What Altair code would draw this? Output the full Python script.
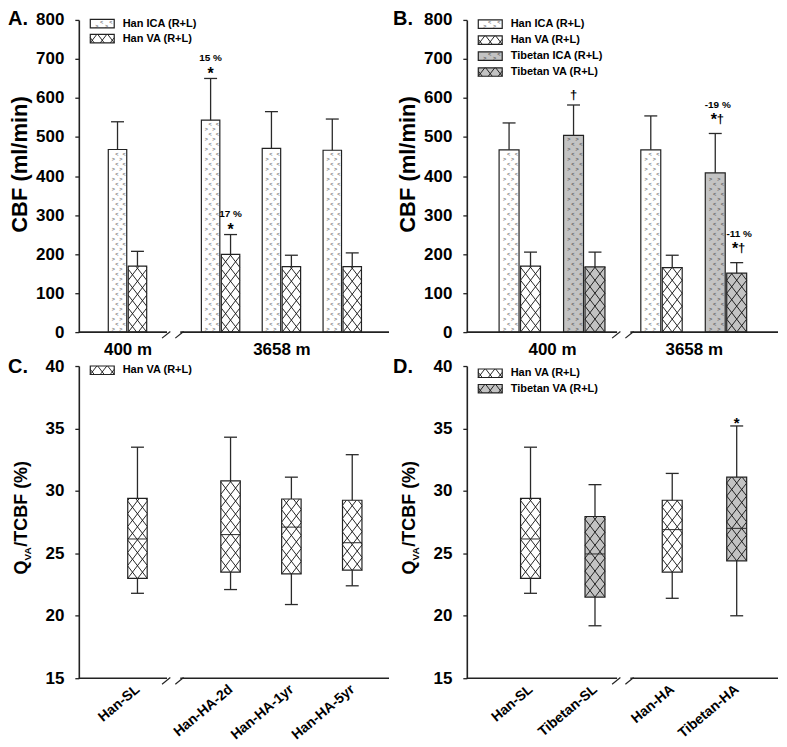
import json
import numpy as np
import pandas as pd
import altair as alt

FONT = "Liberation Sans"
EDGE = "#222222"
FILL = {"Han": "#ffffff", "Tibetan": "#c3c3c3"}
CHEV = {"Han": "#7a7a7a", "Tibetan": "#5e5e5e"}

# ------------------------------------------------------------------ data
# Panel A - Han, total ICA / VA flow (mean, top of SD bar)
a_site = ["400 m", "3658 m", "3658 m", "3658 m"]
a_pop = ["Han", "Han", "Han", "Han"]
a_ica = [468, 543, 471, 466]
a_ica_top = [539, 650, 565, 546]
a_va = [169, 199, 168, 168]
a_va_top = [207, 250, 197, 203]
a_ica_pct = ["", "15 %", "", ""]
a_ica_sig = ["", "*", "", ""]
a_va_pct = ["", "17 %", "", ""]
a_va_sig = ["", "*", "", ""]
a_legend = ["Han ICA (R+L)", "Han VA (R+L)"]

# Panel B - Han vs Tibetan
b_site = ["400 m", "400 m", "3658 m", "3658 m"]
b_pop = ["Han", "Tibetan", "Han", "Tibetan"]
b_ica = [467, 504, 467, 408]
b_ica_top = [536, 582, 554, 509]
b_va = [169, 167, 165, 151]
b_va_top = [205, 205, 197, 178]
b_ica_pct = ["", "", "", "-19 %"]
b_ica_sig = ["", "†", "", "*†"]
b_va_pct = ["", "", "", "-11 %"]
b_va_sig = ["", "", "", "*†"]
b_legend = ["Han ICA (R+L)", "Han VA (R+L)", "Tibetan ICA (R+L)", "Tibetan VA (R+L)"]

# Panel C - QVA/TCBF (%) box plots, Han
c_groups = ["Han-SL", "Han-HA-2d", "Han-HA-1yr", "Han-HA-5yr"]
c_pop = ["Han", "Han", "Han", "Han"]
c_min = [21.8, 22.1, 20.9, 22.4]
c_q1 = [23.0, 23.5, 23.35, 23.65]
c_median = [26.15, 26.5, 27.1, 25.85]
c_q3 = [29.4, 30.8, 29.35, 29.25]
c_max = [33.5, 34.3, 31.1, 32.9]
c_sig = ["", "", "", ""]
c_legend = ["Han VA (R+L)"]

# Panel D - QVA/TCBF (%) box plots, Han vs Tibetan
d_groups = ["Han-SL", "Tibetan-SL", "Han-HA", "Tibetan-HA"]
d_pop = ["Han", "Tibetan", "Han", "Tibetan"]
d_min = [21.8, 19.2, 21.4, 20.0]
d_q1 = [23.0, 21.5, 23.5, 24.4]
d_median = [26.15, 24.95, 26.9, 27.0]
d_q3 = [29.4, 27.95, 29.25, 31.1]
d_max = [33.5, 30.5, 31.4, 35.2]
d_sig = ["", "", "", "*"]
d_legend = ["Han VA (R+L)", "Tibetan VA (R+L)"]

# ------------------------------------------------------------------ layout
PLOT_H = 313
W_LEFT, W_RIGHT = 311, 312
PX_LEFT, PX_RIGHT = 61.0, 64.0


class Geo:
    def __init__(self, width, height, px_per_slot, ydom):
        self.w, self.h = width, height
        self.sx = float(px_per_slot)
        self.xdom = [0.0, round(width / px_per_slot, 4)]
        self.ydom = list(ydom)
        self.sy = height / float(ydom[1] - ydom[0])

    def X(self, px):
        return self.xdom[0] + px / self.sx

    def Y(self, py):
        return self.ydom[1] - py / self.sy

    def ux(self, px):
        return px / self.sx

    def uy(self, px):
        return px / self.sy


def slot_positions(n, start, step, brk_after, extra):
    out, x = [], start
    for i in range(n):
        out.append(round(x, 4))
        x += step + (extra if i == brk_after else 0.0)
    return out


def hatch_segments(g, x0, x1, y0, y1, dv=13.0, a=1.3):
    W = (x1 - x0) * g.sx
    Hh = (y1 - y0) * g.sy
    segs = []
    n0 = int(np.floor(-a * W / dv)) - 1
    n1 = int(np.ceil(Hh / dv)) + 1
    for n in range(n0, n1 + 1):
        k = n * dv
        lo, hi = max(0.0, -k / a), min(W, (Hh - k) / a)
        if hi - lo > 0.2:
            segs.append((lo, a * lo + k, hi, a * hi + k))
    for n in range(n0, n1 + 1):
        k = a * W + n * dv
        lo, hi = max(0.0, (k - Hh) / a), min(W, k / a)
        if hi - lo > 0.2:
            segs.append((lo, -a * lo + k, hi, -a * hi + k))
    return [dict(x=x0 + p / g.sx, y=y0 + q / g.sy, x2=x0 + p2 / g.sx, y2=y0 + q2 / g.sy)
            for p, q, p2, q2 in segs]


def chevron_marks(g, x0, x1, y0, y1, color, start=3.5, step=5.0):
    W = (x1 - x0) * g.sx
    Hh = (y1 - y0) * g.sy
    out, py, i = [], start, 0
    while py <= Hh - 2.0:
        if i % 2 == 0:
            fr, t = (0.27, 0.68), ">"
        else:
            fr, t = (0.47, 0.86), "<"
        for f in fr:
            out.append(dict(x=x0 + f * W / g.sx, y=y0 + py / g.sy, t=t, c=color))
        py += step
        i += 1
    return out


class Canvas:
    def __init__(self, g):
        self.g = g
        self.rects, self.hatch, self.chev = [], [], []
        self.rules, self.ann, self.leg = [], [], []

    def box(self, x0, x1, y0, y1, fill, pattern, chev_color, start=3.5, step=5.0):
        self.rects.append(dict(x0=x0, x1=x1, y0=y0, y1=y1, fill=fill))
        if pattern == "hatch":
            self.hatch += hatch_segments(self.g, x0, x1, y0, y1)
        else:
            self.chev += chevron_marks(self.g, x0, x1, y0, y1, chev_color, start, step)

    def rule(self, x, y, x2, y2, w=1.3, c="#2a2a2a"):
        self.rules.append(dict(x=x, y=y, x2=x2, y2=y2, w=w, c=c))

    def annotate(self, x, anchor, pct, sig, o):
        g = self.g

        def put(dx, up, t, size, corr):
            self.ann.append(dict(x=x + g.ux(dx), y=anchor + g.uy(up - corr * size), t=t, size=size))

        if pct:
            put(o.get("pct_dx", 0), o["pct"], pct, 10, 0.06)
        if sig == "*":
            put(0, o["star"], "*", o["star_size"], 0.27)
        elif sig == "†":
            put(0, o["dag"], "†", 13, 0.0)
        elif sig == "*†":
            put(-1.5, o["star2"], "*", o["star_size"], 0.27)
            put(5.0, o["dag2"], "†", 13, 0.0)

    def legend(self, names, tops):
        g = self.g
        for name, top in zip(names, tops):
            pop = "Tibetan" if name.startswith("Tibetan") else "Han"
            pattern = "chev" if "ICA" in name else "hatch"
            self.box(g.X(11.5), g.X(35.5), g.Y(top + 8.5), g.Y(top), FILL[pop], pattern,
                     CHEV[pop], start=2.2, step=4.2)
            self.leg.append(dict(x=g.X(44), y=g.Y(top + 4.25), t=name))

    def broken_axis(self, brk):
        g = self.g
        y0 = g.ydom[0]
        self.rule(g.xdom[0], y0, brk - g.ux(5.8), y0, w=1.6, c=EDGE)
        self.rule(brk + g.ux(7.5), y0, g.xdom[1], y0, w=1.6, c=EDGE)
        for off in (-10.8, 2.5):
            self.rule(brk + g.ux(off), y0 - g.uy(6.0), brk + g.ux(off + 8.3), y0 + g.uy(0.7),
                      w=1.2, c=EDGE)

    def chart(self, xaxis, yaxis, extras):
        g = self.g

        def X(f):
            return alt.X(f"{f}:Q", scale=alt.Scale(domain=g.xdom, nice=False, zero=False), axis=xaxis)

        def Y(f):
            return alt.Y(f"{f}:Q", scale=alt.Scale(domain=g.ydom, nice=False, zero=False), axis=yaxis)

        layers = [
            alt.Chart(pd.DataFrame(self.rects)).mark_rect(strokeWidth=0).encode(
                x=X("x0"), x2="x1", y=Y("y0"), y2="y1",
                fill=alt.Fill("fill:N", scale=None, legend=None)),
        ]
        if self.hatch:
            layers.append(alt.Chart(pd.DataFrame(self.hatch)).mark_rule(
                color="#111111", strokeWidth=0.9).encode(x=X("x"), y=Y("y"), x2="x2", y2="y2"))
        if self.chev:
            layers.append(alt.Chart(pd.DataFrame(self.chev)).mark_text(
                font=FONT, fontSize=5.5, fontWeight="bold", baseline="middle", align="center").encode(
                x=X("x"), y=Y("y"), text="t:N", color=alt.Color("c:N", scale=None, legend=None)))
        layers.append(alt.Chart(pd.DataFrame(self.rects)).mark_rect(
            filled=False, color=EDGE, strokeWidth=1.2).encode(x=X("x0"), x2="x1", y=Y("y0"), y2="y1"))
        layers.append(alt.Chart(pd.DataFrame(self.rules)).mark_rule().encode(
            x=X("x"), y=Y("y"), x2="x2", y2="y2",
            strokeWidth=alt.StrokeWidth("w:Q", scale=None, legend=None),
            color=alt.Color("c:N", scale=None, legend=None)))
        if self.ann:
            layers.append(alt.Chart(pd.DataFrame(self.ann)).mark_text(
                font=FONT, fontWeight="bold", baseline="middle", align="center", color="black").encode(
                x=X("x"), y=Y("y"), text="t:N", size=alt.Size("size:Q", scale=None, legend=None)))
        layers.append(alt.Chart(pd.DataFrame(self.leg)).mark_text(
            font=FONT, fontWeight="bold", fontSize=11, baseline="middle", align="left", color="black").encode(
            x=X("x"), y=Y("y"), text="t:N"))
        layers += extras
        return alt.layer(*layers).properties(width=g.w, height=g.h)


def fixed_text(text, x, y, size, angle=0, align="left", baseline="alphabetic"):
    return alt.Chart(pd.DataFrame({"k": [0]})).mark_text(
        text=text, font=FONT, fontWeight="bold", fontSize=size, angle=angle,
        align=align, baseline=baseline, color="black").encode(x=alt.value(x), y=alt.value(y))


def cbf_title():
    return [fixed_text("CBF (ml/min)", -52, 145, 22, angle=270, align="center")]


def qva_title():
    big, small = 18, 10
    y0 = 209.0
    y1 = y0 - 0.778 * big
    y2 = y1 - 1.389 * small
    return [fixed_text("Q", -52, y0, big, angle=270),
            fixed_text("VA", -48, y1, small, angle=270),
            fixed_text("/TCBF (%)", -52, y2, big, angle=270)]


def y_axis(vals):
    return alt.Axis(values=vals, title=None, grid=False, tickSize=4, tickWidth=1.3, tickColor=EDGE,
                    domainColor=EDGE, domainWidth=1.6, labelFont=FONT, labelFontSize=17,
                    labelFontWeight="bold", labelColor="black", labelPadding=11,
                    labelFlush=False, labelOverlap=False)


def lookup_expr(vals, labels):
    return f"{json.dumps(labels)}[indexof({json.dumps(vals)}, datum.value)]"


def site_axis(vals, labels):
    return alt.Axis(values=vals, labelExpr=lookup_expr(vals, labels), title=None, grid=False,
                    ticks=False, tickSize=0, domain=False, labelFont=FONT, labelFontSize=17,
                    labelFontWeight="bold", labelColor="black", labelPadding=9, labelAngle=0,
                    labelFlush=False, labelOverlap=False)


def group_axis(vals, labels):
    return alt.Axis(values=vals, labelExpr=lookup_expr(vals, labels), title=None, grid=False,
                    ticks=False, tickSize=0, domain=False, labelFont=FONT, labelFontSize=14,
                    labelFontWeight="bold", labelColor="black", labelPadding=9, labelAngle=-40,
                    labelAlign="right", labelBaseline="middle", labelFlush=False, labelOverlap=False)


def bar_panel(g, centers, brk, bar_w, sites, pops, ica, ica_top, va, va_top,
              ica_pct, ica_sig, va_pct, va_sig, legend_names, legend_tops, offs, letter, letter_x):
    cv = Canvas(g)
    gap = 1.5
    for i, c in enumerate(centers):
        pop = pops[i]
        spec = [("ICA", ica[i], ica_top[i], ica_pct[i], ica_sig[i]),
                ("VA", va[i], va_top[i], va_pct[i], va_sig[i])]
        for kind, val, top, pct, sig in spec:
            if kind == "ICA":
                x0, x1 = c - g.ux(gap / 2 + bar_w), c - g.ux(gap / 2)
            else:
                x0, x1 = c + g.ux(gap / 2), c + g.ux(gap / 2 + bar_w)
            cv.box(x0, x1, 0, val, FILL[pop], "chev" if kind == "ICA" else "hatch", CHEV[pop])
            xm = (x0 + x1) / 2
            cv.rule(xm, val, xm, top)
            cv.rule(xm - g.ux(6.5), top, xm + g.ux(6.5), top)
            cv.annotate(xm, top, pct, sig, offs)
    cv.legend(legend_names, legend_tops)
    cv.broken_axis(brk)
    labels = list(dict.fromkeys(sites))
    vals = [round(float(np.mean([c for c, s in zip(centers, sites) if s == lab])), 4) for lab in labels]
    extras = cbf_title() + [fixed_text(letter, letter_x, 5, 20)]
    return cv.chart(site_axis(vals, labels), y_axis(list(range(0, 801, 100))), extras)


def box_panel(g, centers, brk, box_w, groups, pops, lo, q1, med, q3, hi, sig,
              legend_names, legend_tops, letter, letter_x):
    cv = Canvas(g)
    for i, c in enumerate(centers):
        x0, x1 = c - g.ux(box_w / 2), c + g.ux(box_w / 2)
        cv.box(x0, x1, q1[i], q3[i], FILL[pops[i]], "hatch", CHEV[pops[i]])
        cv.rule(c, q3[i], c, hi[i])
        cv.rule(c, q1[i], c, lo[i])
        cv.rule(c - g.ux(6.5), hi[i], c + g.ux(6.5), hi[i])
        cv.rule(c - g.ux(6.5), lo[i], c + g.ux(6.5), lo[i])
        cv.rule(x0, med[i], x1, med[i], w=1.0)
        cv.annotate(c, hi[i], "", sig[i], {"star": 7.0, "star_size": 15})
    cv.legend(legend_names, legend_tops)
    cv.broken_axis(brk)
    extras = qva_title() + [fixed_text(letter, letter_x, 7, 20)]
    return cv.chart(group_axis(list(centers), list(groups)), y_axis([15, 20, 25, 30, 35, 40]), extras)


# geometry of the four panels
gA = Geo(W_LEFT, PLOT_H, PX_LEFT, [0, 800])
gB = Geo(W_RIGHT, PLOT_H, PX_RIGHT, [0, 800])
gC = Geo(W_LEFT, PLOT_H, PX_LEFT, [15, 40])
gD = Geo(W_RIGHT, PLOT_H, PX_RIGHT, [15, 40])

a_centers = slot_positions(4, 0.80, 1.00, 0, 0.53)
b_centers = slot_positions(4, 0.83, 1.01, 1, 0.20)
a_brk = round((a_centers[0] + a_centers[1]) / 2 - 0.02, 4)
b_brk = round((b_centers[1] + b_centers[2]) / 2, 4)
BAR_W_A, BAR_W_B = 18.5, 20.0
c_centers = [round(c + gA.ux(0.75 + BAR_W_A / 2), 4) for c in a_centers]
d_centers = [round(c + gB.ux(0.75 + BAR_W_B / 2), 4) for c in b_centers]

panel_a = bar_panel(gA, a_centers, a_brk, BAR_W_A, a_site, a_pop, a_ica, a_ica_top, a_va, a_va_top,
                    a_ica_pct, a_ica_sig, a_va_pct, a_va_sig, a_legend, [-0.5, 14.5],
                    {"pct": 21.5, "star": 9.0, "star_size": 16}, "A.", -71)
panel_b = bar_panel(gB, b_centers, b_brk, BAR_W_B, b_site, b_pop, b_ica, b_ica_top, b_va, b_va_top,
                    b_ica_pct, b_ica_sig, b_va_pct, b_va_sig, b_legend, [0, 16, 32, 48],
                    {"pct": 29.5, "pct_dx": 2.5, "star": 9.0, "star_size": 16, "dag": 10.0,
                     "star2": 18.0, "dag2": 15.0}, "B.", -74)
panel_c = box_panel(gC, c_centers, a_brk, 19.5, c_groups, c_pop, c_min, c_q1, c_median, c_q3, c_max,
                    c_sig, c_legend, [0], "C.", -71)
panel_d = box_panel(gD, d_centers, b_brk, 20.0, d_groups, d_pop, d_min, d_q1, d_median, d_q3, d_max,
                    d_sig, d_legend, [3, 18.5], "D.", -74)

chart = alt.concat(
    panel_a, panel_b, panel_c, panel_d,
    columns=2, spacing={"row": 34, "column": 78}, bounds="flush",
).properties(padding=0, background="white").configure_view(stroke=None)

chart.save("out.html", embed_options={"renderer": "svg", "actions": False})
